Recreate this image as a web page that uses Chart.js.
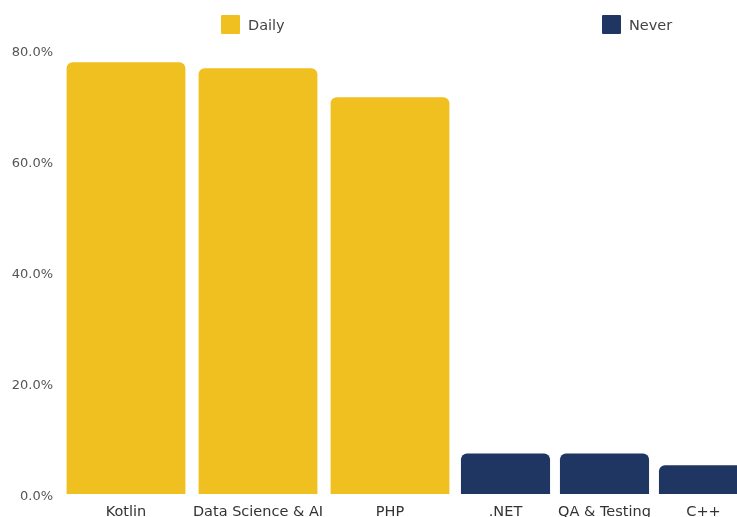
<!DOCTYPE html>
<html>
<head>
<meta charset="utf-8">
<script src="https://cdn.jsdelivr.net/npm/chart.js@4/dist/chart.umd.min.js"></script>
<style>
    html, body { margin: 0; padding: 0; background: #fff; overflow: hidden; }
    .chart-wrap { position: relative; width: 755px; height: 517px; }
    .chart-legend { position: absolute; top: 0; left: 0; width: 737px; height: 40px; }
    .chart-legend_item { position: absolute; top: 15px; display: flex; align-items: center; font: 14.5px "DejaVu Sans", sans-serif; color: #444; }
    .chart-legend_item-rect { width: 19px; height: 19px; border-radius: 1px; margin-right: 8px; }
</style>
</head>
<body>
<div class="chart-wrap">
    <canvas id="chart" width="755" height="517"></canvas>
    <div id="chart-legend" class="chart-legend"></div>
</div>
<script>
    const dailyLabels = ['Kotlin', 'Data Science & AI', 'PHP'];
    const dailyValues = [77.8, 76.7, 71.5];
    const neverLabels = ['.NET', 'QA & Testing', 'C++'];
    const neverValues = [7.3, 7.3, 5.2];
    const yTicks = [0, 20, 40, 60, 80];

    const yellow = '#F0C021';
    const navy = '#1F3663';
    const legendLeft = [221, 602];

    const xAxis = (labels, weight) => ({
        type: 'category',
        labels: labels,
        position: 'bottom',
        stack: 'cats',
        stackWeight: weight,
        offset: true,
        afterFit: (scale) => {
            scale.height = 23;
        },
        grid: { display: false, drawTicks: false },
        border: { display: false },
        ticks: {
            autoSkip: false,
            maxRotation: 0,
            padding: 10,
            color: '#333',
            font: { family: 'DejaVu Sans', size: 14.5 }
        }
    });

    const ctx = document.getElementById('chart').getContext('2d');
    const chart = new Chart(ctx, {
        type: 'bar',
        data: {
            datasets: [{
                label: 'Daily',
                data: dailyValues,
                xAxisID: 'x',
                backgroundColor: yellow,
                borderRadius: 6,
                grouped: false,
                categoryPercentage: 1,
                barPercentage: 0.9
            }, {
                label: 'Never',
                data: neverValues,
                xAxisID: 'x2',
                backgroundColor: navy,
                borderRadius: 6,
                grouped: false,
                categoryPercentage: 1,
                barPercentage: 0.9
            }]
        },
        options: {
            responsive: false,
            animation: false,
            layout: { padding: { top: 50, right: 2, left: 0, bottom: 0 } },
            plugins: {
                legend: { display: false },
                tooltip: { enabled: false }
            },
            scales: {
                x: xAxis(dailyLabels, 4),
                x2: xAxis(neverLabels, 3),
                y: {
                    min: 0,
                    max: 80,
                    afterBuildTicks: (scale) => {
                        scale.ticks = yTicks.map((v) => ({ value: v }));
                    },
                    afterFit: (scale) => {
                        scale.width = 60;
                    },
                    grid: { display: false, drawTicks: false },
                    border: { display: false },
                    ticks: {
                        padding: 7,
                        labelOffset: 3,
                        color: '#555',
                        font: { family: 'DejaVu Sans', size: 13 },
                        callback: (v) => v.toFixed(1) + '%'
                    }
                }
            }
        }
    });

    let itemsHtml = '';
    chart.data.datasets.forEach((ds, i) => {
        itemsHtml += `
            <div class="chart-legend_item" style="left: ${legendLeft[i]}px;">
                <span class="chart-legend_item-rect" style="background-color: ${ds.backgroundColor};"></span>
                <span class="chart-legend_item-title">${ds.label}</span>
            </div>`;
    });
    document.getElementById('chart-legend').innerHTML = itemsHtml;
</script>
</body>
</html>
